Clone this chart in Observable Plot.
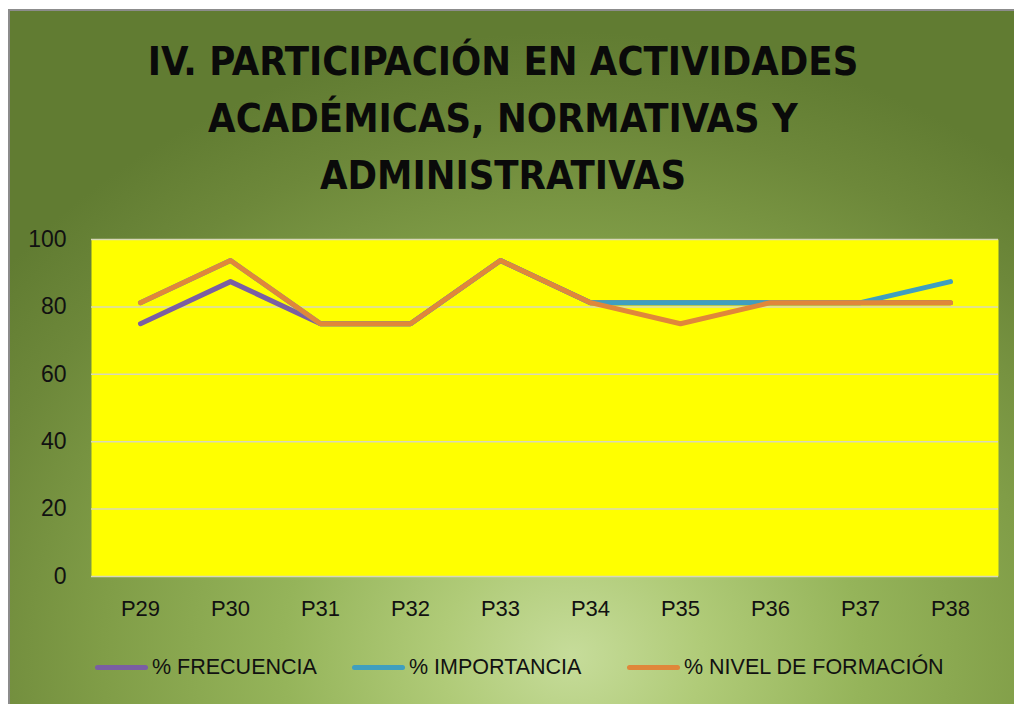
<!DOCTYPE html>
<html><head><meta charset="utf-8">
<script src="https://cdn.jsdelivr.net/npm/d3@7"></script>
<script src="https://cdn.jsdelivr.net/npm/@observablehq/plot@0.6"></script>
<style>
html,body{margin:0;padding:0;background:#fff;width:1014px;height:704px;overflow:hidden;position:relative}
#bg{position:absolute;left:8px;top:9px;width:1006px;height:695px;box-sizing:border-box;border-top:2px solid #8c8c8c;border-left:2px solid #8c8c8c;
background: radial-gradient(ellipse 72% 90% at 56% 93%, #c6dc9a 0%, #b0cb78 18%, #95b45a 40%, #809d47 65%, #6d883a 85%, #617c32 100%);}
#title{position:absolute;left:0;top:0}
#plot{position:absolute;left:0;top:200px}
.leg{position:absolute;top:655px;display:flex;align-items:center;font-family:'Liberation Sans',Arial,sans-serif;font-size:21.5px;color:#111;white-space:nowrap}
.sw{display:inline-block;width:53px;height:5px;border-radius:3px;margin-right:4px}
</style></head>
<body>
<div id="bg"></div>
<div id="title"></div>
<div id="plot"></div>
<div id="legend"></div>
<script>
const titleLines = ["IV. PARTICIPACIÓN EN ACTIVIDADES", "ACADÉMICAS, NORMATIVAS Y", "ADMINISTRATIVAS"];
const categories = ["P29","P30","P31","P32","P33","P34","P35","P36","P37","P38"];
const frecuencia  = [75, 87.5, 75, 75, 93.75, 81.25, 81.25, 81.25, 81.25, 81.25];
const importancia = [81.25, 93.75, 75, 75, 93.75, 81.25, 81.25, 81.25, 81.25, 87.5];
const nivel       = [81.25, 93.75, 75, 75, 93.75, 81.25, 75, 81.25, 81.25, 81.25];
const seriesNames = ["% FRECUENCIA", "% IMPORTANCIA", "% NIVEL DE FORMACIÓN"];
const seriesColors = ["#7a5ea3", "#3f9fbf", "#e0873a"];
const yTicks = [0, 20, 40, 60, 80, 100];

const seriesValues = [frecuencia, importancia, nivel];
const rows = seriesValues.map((vals, s) => categories.map((c, i) => ({cat: c, value: vals[i], series: seriesNames[s]})));

// Title (fit to reference width)
const titleFont = "'DejaVu Sans Condensed','Liberation Sans Narrow','Liberation Sans',Arial,sans-serif";
const cv = document.createElement("canvas").getContext("2d");
cv.font = `bold 40px ${titleFont}`;
const w1 = cv.measureText(titleLines[0]).width;
const tSize = 40 * 711 / w1;
const tsvg = d3.select("#title").append("svg").attr("width", 1014).attr("height", 200);
const baselines = [75, 132, 189];
titleLines.forEach((t, i) => {
  tsvg.append("text").attr("x", 503).attr("y", baselines[i]).attr("text-anchor", "middle")
    .attr("font-family", titleFont).attr("font-weight", "bold").attr("font-size", tSize)
    .attr("fill", "#0a0a0a").text(t);
});

const chart = Plot.plot({
  width: 1014,
  height: 440,
  marginLeft: 91,
  marginRight: 16,
  marginTop: 39,
  marginBottom: 64,
  style: {background: "transparent", fontFamily: "'Liberation Sans',Arial,sans-serif", fontSize: "22px", color: "#111"},
  x: {type: "point", domain: categories, padding: 0.5},
  y: {domain: [0, 100]},
  marks: [
    Plot.frame({fill: "#ffff00", stroke: null}),
    Plot.ruleY(yTicks, {stroke: "#d8d8b8", strokeWidth: 1.5}),
    Plot.axisY({ticks: yTicks, tickSize: 0, tickPadding: 25, label: null, fontSize: 23}),
    Plot.axisX({tickSize: 0, tickPadding: 24, label: null, fontSize: 22}),
    ...rows.map((r, s) => Plot.line(r, {x: "cat", y: "value", stroke: seriesColors[s], strokeWidth: 5, strokeLinecap: "round", strokeLinejoin: "round"}))
  ]
});
document.getElementById("plot").appendChild(chart);

// Legend
const legLefts = [95, 352, 627];
const leg = document.getElementById("legend");
seriesNames.forEach((n, i) => {
  const d = document.createElement("div");
  d.className = "leg";
  d.style.left = legLefts[i] + "px";
  d.innerHTML = `<span class="sw" style="background:${seriesColors[i]}"></span><span>${n}</span>`;
  leg.appendChild(d);
});
</script>
</body></html>
